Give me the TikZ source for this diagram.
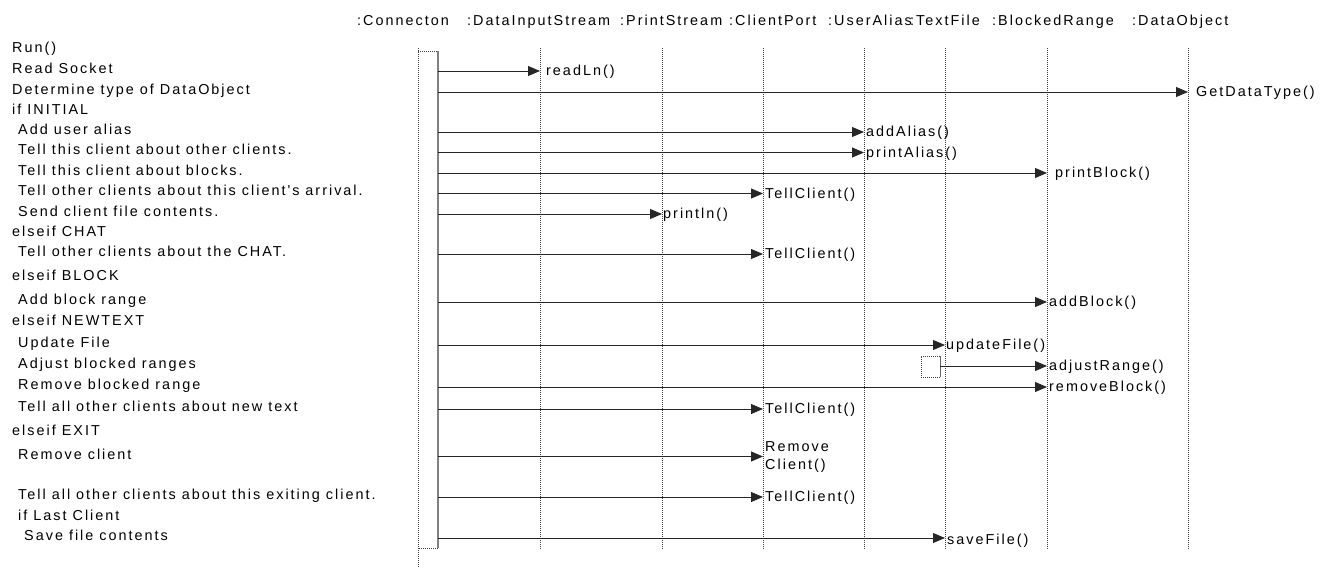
\documentclass[tikz,border=0pt]{standalone}
\usepackage{fontspec}
\setmainfont{Liberation Sans}[Ligatures=TeXOff,LetterSpace=13.9]
\usetikzlibrary{arrows.meta}
\begin{document}
\begin{tikzpicture}[x=1pt,y=-1pt,
  font=\fontsize{14.4}{18}\selectfont,
  lifeline/.style={draw=black!75, line width=0.7pt, dash pattern=on 1pt off 1pt},
  msg/.style={draw=black!85, line width=0.9pt, -{Triangle[length=12pt,width=10pt]}},
  lbl/.style={anchor=west, inner sep=0pt, align=left},
  hdr/.style={anchor=base west, inner sep=0pt},
  txt/.style={anchor=base west, inner sep=0pt},
  actbar/.style={draw=black!50, line width=1.8pt}]
\useasboundingbox (0,0) rectangle (1333,569);
% header labels
\node[hdr] (hC)  at (357,26)  {:Connecton};
\node[hdr] (hD)  at (467,26)  {:DataInputStream};
\node[hdr] (hP)  at (620,26)  {:PrintStream};
\node[hdr] (hCP) at (729,26)  {:ClientPort};
\node[hdr] (hU)  at (828,26)  {:UserAlias};
\node[hdr] (hT)  at (910,26)  {:TextFile};
\node[hdr] (hB)  at (992,26)  {:BlockedRange};
\node[hdr] (hO)  at (1132,26) {:DataObject};
% lifelines
\coordinate (C0) at (418,48);  \coordinate (C1) at (418,568);
\coordinate (D0) at (540,48);  \coordinate (D1) at (540,550);
\coordinate (P0) at (662,48);  \coordinate (P1) at (662,550);
\coordinate (K0) at (763,48);  \coordinate (K1) at (763,550);
\coordinate (U0) at (864,48);  \coordinate (U1) at (864,550);
\coordinate (T0) at (945,48);  \coordinate (T1) at (945,550);
\coordinate (B0) at (1047,48); \coordinate (B1) at (1047,550);
\coordinate (O0) at (1188,48); \coordinate (O1) at (1188,550);
\foreach \a/\b in {C0/C1,D0/D1,P0/P1,K0/K1,U0/U1,T0/T1,B0/B1,O0/O1}
  \draw[lifeline] (\a) -- (\b);
% activation box of Connecton
\coordinate (A0) at (418,51); \coordinate (A1) at (438,51);
\coordinate (A2) at (438,548); \coordinate (A3) at (418,548);
\draw[lifeline] (A0) -- (A1);
\draw[lifeline] (A2) -- (A3);
\draw[actbar] (A1) -- (A2);
% self activation on TextFile
\coordinate (S0) at (921,356); \coordinate (S1) at (940,356);
\coordinate (S2) at (940,377); \coordinate (S3) at (921,377);
\draw[lifeline] (S1) -- (S0) -- (S3) -- (S2);
\draw[actbar, line width=1pt, draw=black!60] (S1) -- (S2);
% left text
\node[txt] at (12,52.5) {Run()};
\node[txt] at (12,73.5) {Read Socket};
\node[txt] at (12,94.5) {Determine type of DataObject};
\node[txt] at (12,114.5) {if INITIAL};
\node[txt] at (12,134.5) {\hspace*{6pt}Add user alias};
\node[txt] at (12,155) {\hspace*{6pt}Tell this client about other clients.};
\node[txt] at (12,175.5) {\hspace*{6pt}Tell this client about blocks.};
\node[txt] at (12,196) {\hspace*{6pt}Tell other clients about this client's arrival.};
\node[txt] at (12,216.5) {\hspace*{6pt}Send client file contents.};
\node[txt] at (12,236.5) {elseif CHAT};
\node[txt] at (12,256.5) {\hspace*{6pt}Tell other clients about the CHAT.};
\node[txt] at (12,280.5) {elseif BLOCK};
\node[txt] at (12,304.5) {\hspace*{6pt}Add block range};
\node[txt] at (12,326) {elseif NEWTEXT};
\node[txt] at (12,347.5) {\hspace*{6pt}Update File};
\node[txt] at (12,368.5) {\hspace*{6pt}Adjust blocked ranges};
\node[txt] at (12,389.5) {\hspace*{6pt}Remove blocked range};
\node[txt] at (12,411.5) {\hspace*{6pt}Tell all other clients about new text};
\node[txt] at (12,435) {elseif EXIT};
\node[txt] at (12,459) {\hspace*{6pt}Remove client};
\node[txt] at (12,499.5) {\hspace*{6pt}Tell all other clients about this exiting client.};
\node[txt] at (12,520) {\hspace*{6pt}if Last Client};
\node[txt] at (12,540.5) {\hspace*{12pt}Save file contents};
% messages
\coordinate (m1s) at (438,71);    \coordinate (m1t) at (540,71);
\coordinate (m2s) at (438,92);    \coordinate (m2t) at (1188,92);
\coordinate (m3s) at (438,132);   \coordinate (m3t) at (864,132);
\coordinate (m4s) at (438,152.5); \coordinate (m4t) at (864,152.5);
\coordinate (m5s) at (438,173);   \coordinate (m5t) at (1047,173);
\coordinate (m6s) at (438,193.5); \coordinate (m6t) at (763,193.5);
\coordinate (m7s) at (438,214);   \coordinate (m7t) at (662,214);
\coordinate (m8s) at (438,254);   \coordinate (m8t) at (763,254);
\coordinate (m9s) at (438,302);   \coordinate (m9t) at (1047,302);
\coordinate (m10s) at (438,345);  \coordinate (m10t) at (945,345);
\coordinate (m11s) at (940,366);  \coordinate (m11t) at (1047,366);
\coordinate (m12s) at (438,387);  \coordinate (m12t) at (1047,387);
\coordinate (m13s) at (438,409);  \coordinate (m13t) at (763,409);
\coordinate (m14s) at (438,456.5);\coordinate (m14t) at (763,456.5);
\coordinate (m15s) at (438,497);  \coordinate (m15t) at (763,497);
\coordinate (m16s) at (438,538);  \coordinate (m16t) at (945,538);
\foreach \i in {1,...,16} \draw[msg] (m\i s) -- (m\i t);
% message labels
\node[lbl] (l1)  at (546,72)    {readLn()};
\node[lbl] (l2)  at (1196,93)   {GetDataType()};
\node[lbl] (l3)  at (866,133)   {addAlias()};
\node[lbl] (l4)  at (866,153.5) {printAlias()};
\node[lbl] (l5)  at (1055,174)  {printBlock()};
\node[lbl] (l6)  at (765,194.5) {TellClient()};
\node[lbl] (l7)  at (663,215)   {println()};
\node[lbl] (l8)  at (765,255)   {TellClient()};
\node[lbl] (l9)  at (1049,303)  {addBlock()};
\node[lbl] (l10) at (946,346)   {updateFile()};
\node[lbl] (l11) at (1049,367)  {adjustRange()};
\node[lbl] (l12) at (1049,388)  {removeBlock()};
\node[lbl] (l13) at (765,410)   {TellClient()};
\node[lbl] (l14) at (765,457.5) {Remove\\Client()};
\node[lbl] (l15) at (765,498)   {TellClient()};
\node[lbl] (l16) at (947,541)   {saveFile()};
\end{tikzpicture}
\end{document}
